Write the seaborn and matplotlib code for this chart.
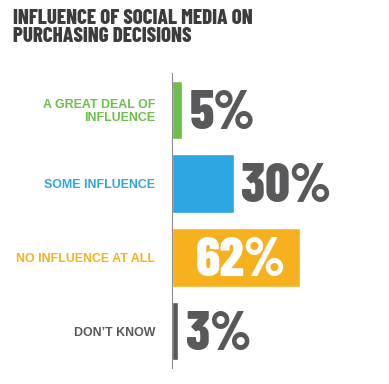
import numpy as np
import pandas as pd
import matplotlib.pyplot as plt
import seaborn as sns

# values
categories = ['A GREAT DEAL OF\nINFLUENCE', 'SOME INFLUENCE', 'NO INFLUENCE AT ALL', "DON\u2019T KNOW"]
shares = [5, 30, 62, 3]
bar_colors = ['#6cbf4b', '#2ea6e2', '#f7b11e', '#59595b']

CONDENSED = ['Barlow Condensed', 'DejaVu Sans']
TEXT_GREY = '#59595b'

sns.set_style('white')
plt.rcParams['font.family'] = ['Liberation Sans', 'DejaVu Sans']

data = pd.DataFrame({'category': categories, 'share': shares})

fig = plt.figure(figsize=(3.89, 3.84), dpi=100)
ax = fig.add_axes([172 / 389, 16 / 384, 206 / 389, 295 / 384])

sns.barplot(data=data, x='share', y='category', hue='category', palette=bar_colors,
            orient='h', width=0.79, saturation=1, legend=False, ax=ax)

ax.set_xlim(0, 100)
ax.set_ylim(3.5, -0.5)
ax.set_xlabel('')
ax.set_ylabel('')
ax.set_xticks([])
for side in ['top', 'right', 'bottom']:
    ax.spines[side].set_visible(False)
ax.spines['left'].set_color('#8c8c8c')
ax.spines['left'].set_linewidth(0.8)

# category labels, coloured like their bar
ax.tick_params(axis='y', length=0, pad=12)
for lab, col in zip(ax.get_yticklabels(), bar_colors):
    lab.set_color(col)
    lab.set_fontweight('bold')
    lab.set_fontsize(8.9)
    lab.set_linespacing(1.1)

# big percentage labels
for i, (val, col) in enumerate(zip(shares, bar_colors)):
    if val > 50:
        ax.annotate(f'{val}%', xy=(val, i), xytext=(-10, -13.5), textcoords='offset points',
                    ha='right', va='baseline', fontsize=39, fontweight=800,
                    fontstretch='condensed', family=CONDENSED, color='white')
    else:
        ax.annotate(f'{val}%', xy=(val, i), xytext=(5.5, -13.5), textcoords='offset points',
                    ha='left', va='baseline', fontsize=39, fontweight=800,
                    fontstretch='condensed', family=CONDENSED, color=TEXT_GREY)

fig.text(13 / 389, 1 - 9 / 384, 'INFLUENCE OF SOCIAL MEDIA ON\nPURCHASING DECISIONS',
         ha='left', va='top', fontsize=15, fontweight=800, fontstretch='condensed',
         family=CONDENSED, color='#3c3c3e', linespacing=0.92)

plt.savefig('out.png', dpi=100)
